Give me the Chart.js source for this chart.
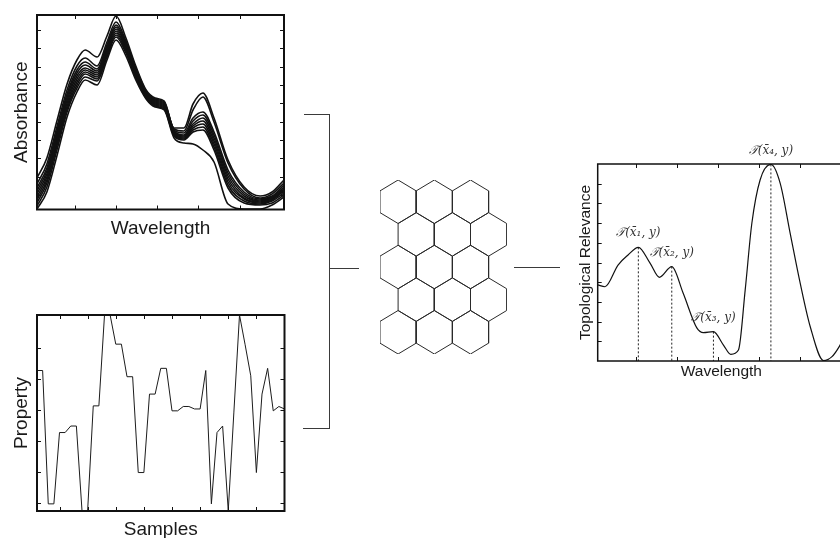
<!DOCTYPE html>
<html>
<head>
<meta charset="utf-8">
<script src="https://cdn.jsdelivr.net/npm/chart.js@4.4.1/dist/chart.umd.min.js"></script>
<style>
  html, body { margin: 0; padding: 0; background: #fff; width: 840px; height: 538px; overflow: hidden; position: relative; }
  canvas { position: absolute; }
  .wire { position: absolute; background: #3a3a3a; }
</style>
</head>
<body>
<canvas id="spectraChart" width="300" height="245" style="left:0;top:0"></canvas>
<canvas id="propertyChart" width="300" height="238" style="left:0;top:300px"></canvas>
<canvas id="somChart" width="150" height="195" style="left:370px;top:170px"></canvas>
<canvas id="relevanceChart" width="300" height="260" style="left:560px;top:130px"></canvas>

<!-- bracket joining the two inputs, and the link to the output -->
<div class="wire" style="left:329px;top:114px;width:1px;height:315px"></div>
<div class="wire" style="left:304px;top:114px;width:26px;height:1px"></div>
<div class="wire" style="left:303px;top:428px;width:27px;height:1px"></div>
<div class="wire" style="left:329px;top:268px;width:30px;height:1px"></div>
<div class="wire" style="left:514px;top:267px;width:46px;height:1px"></div>

<script>
// ---- DATA ----
// spectra: absorbance of each sample on a shared wavelength grid
const wavelength = [0, 2.4, 4.9, 7.3, 9.7, 11.7, 14.6, 17, 19.2, 21.6, 24, 26.5, 28.7, 30.9, 33.3, 35.7, 37.9, 40.3, 43, 46.4, 50.3, 54.2, 57.1, 60];
const spectra = [
    [32, 52, 90, 126, 150, 160, 153, 174, 194, 172, 144, 120, 112, 109, 82, 82, 106, 117, 92, 50, 23, 14, 18, 30],
    [26, 46, 84, 120, 144, 152, 144, 168, 188, 169, 142, 119, 111, 108, 81, 79, 100, 113, 88, 47, 21, 12, 16, 27],
    [22, 42, 80, 116, 140, 148, 141, 165, 185, 167, 140, 118, 110, 107, 80, 77, 92, 98, 78, 40, 18, 11, 14, 25],
    [19, 39, 77, 113, 137, 145, 139, 163, 183, 165, 139, 117, 109, 106, 79, 75, 89, 95, 75, 37, 16, 10, 13, 23],
    [16, 36, 74, 110, 134, 142, 137, 161, 181, 164, 138, 116, 108, 105, 78, 74, 86, 92, 72, 34, 14, 9, 12, 21],
    [13, 33, 71, 107, 131, 140, 135, 159, 179, 162, 137, 115, 107, 104, 77, 73, 84, 89, 69, 31, 12, 8, 11, 20],
    [10, 30, 68, 104, 128, 138, 133, 157, 177, 161, 135, 114, 106, 103, 76, 72, 82, 86, 66, 28, 11, 7, 10, 19],
    [7, 27, 65, 101, 125, 136, 131, 155, 175, 159, 134, 113, 105, 102, 75, 71, 80, 83, 63, 25, 9, 6, 9, 17],
    [4, 23, 61, 98, 122, 133, 129, 153, 173, 157, 132, 112, 104, 101, 74, 70, 78, 80, 60, 22, 7, 5, 7, 15],
    [1, 18, 55, 93, 118, 130, 125, 150, 170, 154, 130, 111, 103, 100, 72, 67, 66, 60, 48, 6, 1, 1, 5, 13]
];
const wavelengthTicks = [9.2, 19.2, 29.2, 39.2, 49.2];
const absorbanceTicks = [15, 33.3, 51.7, 70, 88.3, 106.7, 125, 143.3, 161.7, 180];

// property value per sample
const samples = [1, 2, 3, 4, 5, 6, 7, 8, 9, 10, 11, 12, 13, 14, 15, 16, 17, 18, 19, 20, 21, 22, 23,
    24, 25, 26, 27, 28, 29, 30, 31, 32, 33, 34, 35, 36, 37, 38, 39, 40, 41, 42, 43, 44, 45];
const property = [5.27, 5.27, 0.97, 0.97, 3.27, 3.27, 3.48, 3.48, 0.75, 0.75, 4.13, 4.13, 7.06, 7.06, 6.12,
    6.12, 5.07, 5.07, 1.98, 1.98, 4.51, 4.51, 5.34, 5.34, 3.97, 3.97, 4.11, 4.11, 4.03, 4.03, 5.27, 0.97,
    3.27, 3.48, 0.75, 3.93, 7.06, 6.1, 5.1, 1.98, 4.51, 5.34, 3.97, 4.11, 4.03];
const sampleTicks = [5, 10, 15, 20, 25, 30, 35, 40];
const propertyTicks = [1, 2, 3, 4, 5, 6];

// topological relevance along the wavelength axis
const relevanceX = [0, 1.77, 4.93, 7.36, 9.86, 12.7, 14.96, 17.97, 20.72, 24.05, 25.65, 28.08, 30.51,
    32.3, 34.15, 35.78, 37.4, 39.4, 42.02, 44.28, 46.7, 49.14, 51.57, 54.8, 56.84, 58.6, 60];
const relevance = [3.86, 3.77, 4.87, 5.38, 5.77, 4.97, 4.25, 4.79, 3.45, 1.68, 1.44, 1.49, 0.81,
    0.34, 0.56, 3.6, 6.99, 9.19, 9.98, 9.02, 6.48, 3.94, 1.74, 0.02, 0.22, 0.73, 1.3];
const relevanceTicks = [1, 2, 3, 4, 5, 6, 7, 8, 9];
const peakIndex = [4, 7, 11, 18];
const peakLabels = ['𝒯(x̄₁, y)', '𝒯(x̄₂, y)', '𝒯(x̄₃, y)', '𝒯(x̄₄, y)'];

// self-organising map lattice
const somRows = 5;
const somCols = 3;

// ---- PLUGINS ----
// box frame with inward ticks on all four sides, plus axis titles
const framePlugin = {
    id: 'frame',
    afterDraw(chart, args, o) {
        const { ctx, chartArea: a } = chart;
        const sx = chart.scales.x, sy = chart.scales.y;
        ctx.save();
        ctx.strokeStyle = '#111';
        ctx.lineWidth = 1;
        ctx.beginPath();
        o.xTicks.forEach(v => {
            const p = Math.round(sx.getPixelForValue(v)) + 0.5;
            ctx.moveTo(p, a.bottom); ctx.lineTo(p, a.bottom - o.tick);
            ctx.moveTo(p, a.top); ctx.lineTo(p, a.top + o.tick);
        });
        o.yTicks.forEach(v => {
            const p = Math.round(sy.getPixelForValue(v)) + 0.5;
            ctx.moveTo(a.left, p); ctx.lineTo(a.left + o.tick, p);
            ctx.moveTo(a.right, p); ctx.lineTo(a.right - o.tick, p);
        });
        ctx.stroke();
        ctx.lineWidth = o.border;
        ctx.strokeRect(a.left, a.top, a.right - a.left, a.bottom - a.top);

        ctx.fillStyle = '#1a1a1a';
        ctx.font = o.font;
        ctx.textAlign = 'center';
        ctx.textBaseline = 'middle';
        ctx.fillText(o.xTitle, (a.left + a.right) / 2, a.bottom + o.xTitleGap);
        ctx.translate(a.left - o.yTitleGap, (a.top + a.bottom) / 2);
        ctx.rotate(-Math.PI / 2);
        ctx.fillText(o.yTitle, 0, 0);
        ctx.restore();
    }
};

// math labels above each marked peak
const peakLabelPlugin = {
    id: 'peakLabels',
    afterDatasetsDraw(chart) {
        const { ctx } = chart;
        const sx = chart.scales.x, sy = chart.scales.y;
        ctx.save();
        ctx.fillStyle = '#333';
        ctx.font = 'italic 12px "DejaVu Serif"';
        ctx.textAlign = 'center';
        ctx.textBaseline = 'middle';
        peakIndex.forEach((idx, i) => {
            const px = sx.getPixelForValue(relevanceX[idx]);
            const py = sy.getPixelForValue(relevance[idx]);
            ctx.fillText(peakLabels[i], px, py - 14);
        });
        ctx.restore();
    }
};

const hiddenScales = (xmin, xmax, ymin, ymax) => ({
    x: { type: 'linear', display: false, min: xmin, max: xmax },
    y: { type: 'linear', display: false, min: ymin, max: ymax }
});

const toPoints = (xs, ys) => xs.map((x, i) => ({ x: x, y: ys[i] }));

// ---- SPECTRA ----
new Chart(document.getElementById('spectraChart'), {
    type: 'line',
    data: {
        datasets: spectra.map(s => ({
            data: toPoints(wavelength, s),
            borderColor: '#111',
            borderWidth: 1.6,
            cubicInterpolationMode: 'monotone',
            pointRadius: 0
        }))
    },
    options: {
        responsive: false,
        animation: false,
        layout: { padding: { left: 37, top: 15, right: 16, bottom: 35.5 } },
        scales: hiddenScales(0, 60, 0.5, 195),
        plugins: {
            legend: { display: false },
            tooltip: { enabled: false },
            frame: {
                xTicks: wavelengthTicks, yTicks: absorbanceTicks, tick: 4, border: 2,
                font: '19px "Liberation Sans"', xTitle: 'Wavelength', yTitle: 'Absorbance',
                xTitleGap: 19, yTitleGap: 15
            }
        }
    },
    plugins: [framePlugin]
});

// ---- PROPERTY ----
new Chart(document.getElementById('propertyChart'), {
    type: 'line',
    data: {
        datasets: [{
            data: toPoints(samples, property),
            borderColor: '#1c1c1c',
            borderWidth: 1,
            tension: 0,
            pointRadius: 0
        }]
    },
    options: {
        responsive: false,
        animation: false,
        layout: { padding: { left: 37, top: 15, right: 15.5, bottom: 27 } },
        scales: hiddenScales(1, 45, 0.74, 7.06),
        plugins: {
            legend: { display: false },
            tooltip: { enabled: false },
            frame: {
                xTicks: sampleTicks, yTicks: propertyTicks, tick: 4, border: 2,
                font: '19px "Liberation Sans"', xTitle: 'Samples', yTitle: 'Property',
                xTitleGap: 19, yTitleGap: 15
            }
        }
    },
    plugins: [framePlugin]
});

// ---- SOM LATTICE (pointy-top hexagons, odd rows shifted right) ----
const hexCorners = [[0, 1], [0.866, 0.5], [0.866, -0.5], [0, -1], [-0.866, -0.5], [-0.866, 0.5], [0, 1]];
const hexDatasets = [];
for (let r = 0; r < somRows; r++) {
    for (let c = 0; c < somCols; c++) {
        const cx = c * 1.732 + (r % 2 ? 0.866 : 0);
        const cy = -r * 1.5;
        hexDatasets.push({
            data: hexCorners.map(([dx, dy]) => ({ x: cx + dx, y: cy + dy })),
            showLine: true,
            borderColor: '#2a2a2a',
            borderWidth: 1,
            pointRadius: 0
        });
    }
}
new Chart(document.getElementById('somChart'), {
    type: 'scatter',
    data: { datasets: hexDatasets },
    options: {
        responsive: false,
        animation: false,
        layout: { padding: { left: 10, top: 10, right: 13.3, bottom: 11 } },
        scales: hiddenScales(-0.866, 5.196, -7, 1),
        plugins: { legend: { display: false }, tooltip: { enabled: false } }
    }
});

// ---- TOPOLOGICAL RELEVANCE ----
const peakLines = peakIndex.map(idx => ({
    data: [{ x: relevanceX[idx], y: relevance[idx] }, { x: relevanceX[idx], y: 0 }],
    borderColor: '#222',
    borderWidth: 1,
    borderDash: [2, 2],
    pointRadius: 0
}));
new Chart(document.getElementById('relevanceChart'), {
    type: 'line',
    data: {
        datasets: [{
            data: toPoints(relevanceX, relevance),
            borderColor: '#111',
            borderWidth: 1.2,
            cubicInterpolationMode: 'monotone',
            pointRadius: 0
        }, ...peakLines]
    },
    options: {
        responsive: false,
        animation: false,
        layout: { padding: { left: 37.7, top: 34, right: 15, bottom: 29 } },
        scales: hiddenScales(0, 60, 0, 10),
        plugins: {
            legend: { display: false },
            tooltip: { enabled: false },
            frame: {
                xTicks: wavelengthTicks, yTicks: relevanceTicks, tick: 4, border: 1.5,
                font: '15.5px "Liberation Sans"', xTitle: 'Wavelength', yTitle: 'Topological Relevance',
                xTitleGap: 10.5, yTitleGap: 12
            }
        }
    },
    plugins: [framePlugin, peakLabelPlugin]
});
</script>
</body>
</html>
